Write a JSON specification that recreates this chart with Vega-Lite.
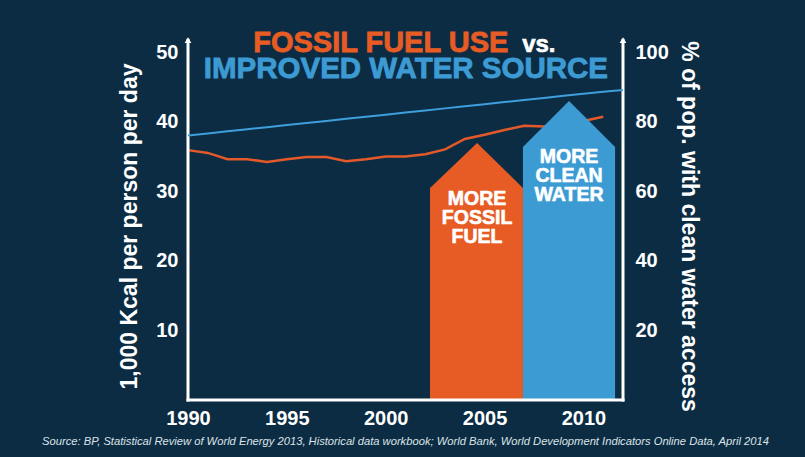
{
  "$schema": "https://vega.github.io/schema/vega-lite/v6.json",
  "width": 435,
  "height": 348,
  "autosize": {"type": "none"},
  "padding": {"left": 188, "top": 52, "right": 182, "bottom": 57},
  "background": "#0b2c43",
  "config": {
    "view": {"stroke": null},
    "font": "Liberation Sans",
    "axis": {
      "domain": false,
      "ticks": false,
      "grid": false,
      "labelColor": "#ffffff",
      "labelFont": "Liberation Sans",
      "labelFontWeight": "bold",
      "labelFontSize": 20,
      "titleColor": "#ffffff",
      "titleFont": "Liberation Sans",
      "titleFontWeight": "bold",
      "titleFontSize": 23
    }
  },
  "title": {
    "text": "Source: BP, Statistical Review of World Energy 2013, Historical data workbook; World Bank, World Development Indicators Online Data, April 2014",
    "orient": "bottom",
    "anchor": "middle",
    "font": "Liberation Sans",
    "fontSize": 11.2,
    "fontStyle": "italic",
    "fontWeight": "normal",
    "color": "#dce3e8",
    "offset": 8
  },
  "datasets": {
    "fuel": [
      {"year": 1990, "kcal": 35.9}, {"year": 1991, "kcal": 35.5}, {"year": 1992, "kcal": 34.6},
      {"year": 1993, "kcal": 34.6}, {"year": 1994, "kcal": 34.2}, {"year": 1995, "kcal": 34.6},
      {"year": 1996, "kcal": 34.9}, {"year": 1997, "kcal": 34.9}, {"year": 1998, "kcal": 34.3},
      {"year": 1999, "kcal": 34.6}, {"year": 2000, "kcal": 35.0}, {"year": 2001, "kcal": 35.0},
      {"year": 2002, "kcal": 35.3}, {"year": 2003, "kcal": 36.0}, {"year": 2004, "kcal": 37.5},
      {"year": 2005, "kcal": 38.1}, {"year": 2006, "kcal": 38.8}, {"year": 2007, "kcal": 39.4},
      {"year": 2008, "kcal": 39.3}, {"year": 2009, "kcal": 38.9}, {"year": 2010, "kcal": 40.1},
      {"year": 2011, "kcal": 40.7}
    ],
    "water": [
      {"year": 1990, "pct": 76.0}, {"year": 1991, "pct": 76.6}, {"year": 1992, "pct": 77.2},
      {"year": 1993, "pct": 77.8}, {"year": 1994, "pct": 78.4}, {"year": 1995, "pct": 79.0},
      {"year": 1996, "pct": 79.6}, {"year": 1997, "pct": 80.2}, {"year": 1998, "pct": 80.8},
      {"year": 1999, "pct": 81.4}, {"year": 2000, "pct": 82.0}, {"year": 2001, "pct": 82.6},
      {"year": 2002, "pct": 83.2}, {"year": 2003, "pct": 83.8}, {"year": 2004, "pct": 84.4},
      {"year": 2005, "pct": 85.0}, {"year": 2006, "pct": 85.6}, {"year": 2007, "pct": 86.2},
      {"year": 2008, "pct": 86.8}, {"year": 2009, "pct": 87.4}, {"year": 2010, "pct": 88.0},
      {"year": 2011, "pct": 88.6}, {"year": 2012, "pct": 89.1}
    ],
    "arrows": [
      {"arrow": "fuel", "year": 2002.24, "kcal": 30.46},
      {"arrow": "fuel", "year": 2004.62, "kcal": 36.93},
      {"arrow": "fuel", "year": 2006.94, "kcal": 30.46},
      {"arrow": "water", "year": 2006.94, "kcal": 36.35},
      {"arrow": "water", "year": 2009.27, "kcal": 42.96},
      {"arrow": "water", "year": 2011.6, "kcal": 36.35}
    ],
    "arrowText": [
      {"year": 2004.62, "kcal": 28.85, "text": "MORE\nFOSSIL\nFUEL"},
      {"year": 2009.27, "kcal": 34.9, "text": "MORE\nCLEAN\nWATER"}
    ],
    "ends": [{"year": 1990}, {"year": 2012}],
    "single": [{}]
  },
  "layer": [
    {
      "layer": [
        {
          "data": {"name": "fuel"},
          "mark": {"type": "line", "color": "#e4592a", "strokeWidth": 2.5, "interpolate": "linear"},
          "encoding": {
            "x": {
              "field": "year", "type": "quantitative",
              "scale": {"domain": [1990, 2012], "nice": false, "zero": false},
              "axis": {"values": [1990, 1995, 2000, 2005, 2010], "format": "d", "title": null, "labelPadding": 8, "labelFlush": false}
            },
            "y": {
              "field": "kcal", "type": "quantitative",
              "scale": {"domain": [0, 50], "nice": false},
              "axis": {"values": [10, 20, 30, 40, 50], "title": "1,000 Kcal per person per day", "labelPadding": 10, "titlePadding": 14, "labelFlush": false}
            }
          }
        },
        {
          "data": {"name": "arrows"},
          "mark": {"type": "area", "interpolate": "linear", "opacity": 1},
          "encoding": {
            "x": {"field": "year", "type": "quantitative", "scale": {"domain": [1990, 2012], "nice": false, "zero": false}},
            "y": {"field": "kcal", "type": "quantitative", "stack": null, "scale": {"domain": [0, 50], "nice": false}},
            "y2": {"datum": 0},
            "color": {"field": "arrow", "type": "nominal", "scale": {"domain": ["fuel", "water"], "range": ["#e65c24", "#3d9bd4"]}, "legend": null}
          }
        },
        {
          "data": {"name": "arrowText"},
          "mark": {"type": "text", "color": "#ffffff", "stroke": "#ffffff", "strokeWidth": 0.6, "font": "Liberation Sans", "fontWeight": "bold", "fontSize": 19.5, "align": "center", "baseline": "middle", "lineBreak": "\n", "lineHeight": 19},
          "encoding": {
            "x": {"field": "year", "type": "quantitative", "scale": {"domain": [1990, 2012], "nice": false, "zero": false}},
            "y": {"field": "kcal", "type": "quantitative", "scale": {"domain": [0, 50], "nice": false}},
            "text": {"field": "text"}
          }
        },
        {
          "data": {"name": "single"},
          "mark": {"type": "text", "text": "FOSSIL FUEL USE", "color": "#e65c24", "stroke": "#e65c24", "strokeWidth": 0.8, "font": "Liberation Sans", "fontWeight": "bold", "fontSize": 29, "align": "right", "baseline": "alphabetic"},
          "encoding": {
            "x": {"datum": 2006.2, "type": "quantitative", "scale": {"domain": [1990, 2012], "nice": false, "zero": false}},
            "y": {"datum": 50.05, "type": "quantitative", "scale": {"domain": [0, 50], "nice": false}}
          }
        },
        {
          "data": {"name": "single"},
          "mark": {"type": "text", "text": "vs.", "color": "#ffffff", "stroke": "#ffffff", "strokeWidth": 0.6, "font": "Liberation Sans", "fontWeight": "bold", "fontSize": 24, "align": "left", "baseline": "alphabetic"},
          "encoding": {
            "x": {"datum": 2006.9, "type": "quantitative", "scale": {"domain": [1990, 2012], "nice": false, "zero": false}},
            "y": {"datum": 50.05, "type": "quantitative", "scale": {"domain": [0, 50], "nice": false}}
          }
        },
        {
          "data": {"name": "single"},
          "mark": {"type": "text", "text": "IMPROVED WATER SOURCE", "color": "#3d9bd4", "stroke": "#3d9bd4", "strokeWidth": 0.8, "font": "Liberation Sans", "fontWeight": "bold", "fontSize": 29.5, "align": "center", "baseline": "alphabetic"},
          "encoding": {
            "x": {"datum": 2001.02, "type": "quantitative", "scale": {"domain": [1990, 2012], "nice": false, "zero": false}},
            "y": {"datum": 46.3, "type": "quantitative", "scale": {"domain": [0, 50], "nice": false}}
          }
        },
        {
          "data": {"name": "ends"},
          "mark": {"type": "rule", "color": "#ffffff", "strokeWidth": 3, "strokeCap": "square"},
          "encoding": {
            "x": {"field": "year", "type": "quantitative", "scale": {"domain": [1990, 2012], "nice": false, "zero": false}},
            "y": {"datum": 0, "type": "quantitative", "scale": {"domain": [0, 50], "nice": false}},
            "y2": {"datum": 51.7}
          }
        },
        {
          "data": {"name": "single"},
          "mark": {"type": "rule", "color": "#ffffff", "strokeWidth": 3, "strokeCap": "square"},
          "encoding": {
            "x": {"datum": 1990, "type": "quantitative", "scale": {"domain": [1990, 2012], "nice": false, "zero": false}},
            "x2": {"datum": 2012},
            "y": {"datum": 0, "type": "quantitative", "scale": {"domain": [0, 50], "nice": false}}
          }
        },
        {
          "data": {"name": "ends"},
          "mark": {"type": "point", "shape": "triangle-up", "filled": true, "color": "#ffffff", "size": 45, "opacity": 1},
          "encoding": {
            "x": {"field": "year", "type": "quantitative", "scale": {"domain": [1990, 2012], "nice": false, "zero": false}},
            "y": {"datum": 51.7, "type": "quantitative", "scale": {"domain": [0, 50], "nice": false}}
          }
        }
      ]
    },
    {
      "data": {"name": "water"},
      "mark": {"type": "line", "color": "#3f9fdc", "strokeWidth": 2, "interpolate": "linear"},
      "encoding": {
        "x": {"field": "year", "type": "quantitative", "scale": {"domain": [1990, 2012], "nice": false, "zero": false}},
        "y": {
          "field": "pct", "type": "quantitative",
          "scale": {"domain": [0, 100], "nice": false},
          "axis": {"orient": "right", "values": [20, 40, 60, 80, 100], "title": "% of pop. with clean water access", "labelPadding": 12, "titlePadding": 8, "labelFlush": false}
        }
      }
    }
  ],
  "resolve": {"scale": {"y": "independent"}}
}
